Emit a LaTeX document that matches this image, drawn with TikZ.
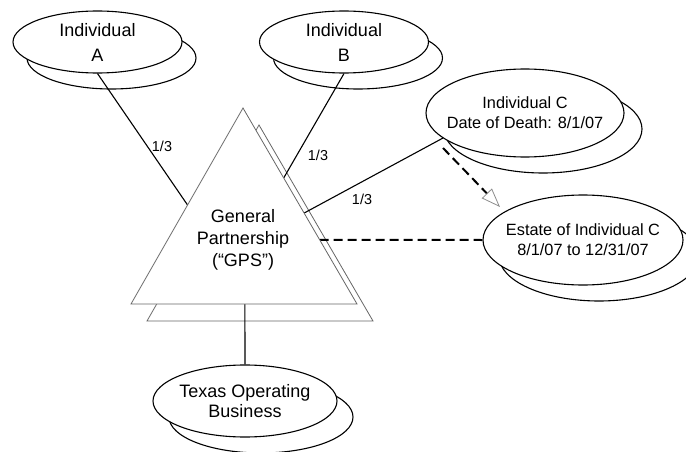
\documentclass[tikz,border=0pt]{standalone}
\usepackage{fontspec}
\setmainfont{Liberation Sans}
\usetikzlibrary{shapes.geometric,arrows.meta,calc}
\begin{document}
\begin{tikzpicture}[x=1pt,y=-1pt,
  stack/.style={ellipse, draw=black, line width=1.1pt, fill=white, inner sep=0pt},
  bigtext/.style={font=\fontsize{18}{25}\selectfont, align=center},
  midtext/.style={font=\fontsize{16.3}{20}\selectfont, align=center},
  link/.style={draw=black, line width=1.1pt},
  share/.style={font=\fontsize{14.4}{16}\selectfont},
  flow/.style={draw=black, line width=2pt, dash pattern=on 9pt off 5pt},
  tri/.style={draw=black!60, line width=0.8pt, fill=white, line join=miter}]
\useasboundingbox (0,0) rectangle (686,452);
\clip (0,0) rectangle (686,452);

% stacked ellipses: the rear copy of each entity
\node[stack, minimum width=169pt, minimum height=62pt] (aback) at (111.5,58) {};
\node[stack, minimum width=169pt, minimum height=62pt] (bback) at (358,58) {};
\node[stack, minimum width=198pt, minimum height=88pt] (cback) at (543,129) {};
\node[stack, minimum width=200pt, minimum height=90pt] (estback) at (599,256) {};
\node[stack, minimum width=184pt, minimum height=72pt] (txback) at (261,417) {};

% front ellipses, sized independently of their text
\node[stack, minimum width=169pt, minimum height=62pt,
  label={[bigtext]center:Individual\\A}] (a) at (97.5,42) {};
\node[stack, minimum width=169pt, minimum height=62pt,
  label={[bigtext]center:Individual\\B}] (b) at (344,42) {};
\node[stack, minimum width=198pt, minimum height=88pt,
  label={[midtext]center:Individual C\\Date of Death: 8/1/07}] (c) at (525,113) {};
\node[stack, minimum width=200pt, minimum height=90pt,
  label={[midtext]center:Estate of Individual C\\8/1/07 to 12/31/07}] (estate) at (583,240) {};
\node[stack, minimum width=184pt, minimum height=72pt,
  label={[font=\fontsize{18}{20}\selectfont, align=center]center:Texas Operating\\Business}] (texas) at (245,401) {};

% partnership triangle (rear copy)
\coordinate (bapex) at (259,125);
\coordinate (bbl) at (147,321);
\coordinate (bbr) at (373,321);
\draw[tri] (bapex) -- (bbl) -- (bbr) -- cycle;

% partnership triangle corners and attachment points
\coordinate (tapex) at (243,108);
\coordinate (tbl) at (131,304);
\coordinate (tbr) at (357,304);
\coordinate (inA) at ($(tapex)!0.495!(tbl)$);
\coordinate (inB) at ($(tapex)!0.357!(tbr)$);
\coordinate (inC) at ($(tapex)!0.536!(tbr)$);
\coordinate (outE) at ($(tapex)!0.673!(tbr)$);
\coordinate (outT) at ($(tbl)!0.504!(tbr)$);

% ownership links
\draw[link] (a.south) -- (inA);
\draw[link] (b.south) -- (inB);
\draw[link] (c.197) -- (inC);
\draw[link] (outT) -- (texas.north);
\draw[flow] (outE) -- (estate.west);

% succession from individual to estate
\coordinate (death) at (443,148);
\coordinate (estin) at (500,207);
\draw[flow, -{Triangle[open, line width=0.8pt, length=19pt, width=14pt, color=black!45]}] (death) -- (estin);

% front triangle
\draw[tri] (tapex) -- (tbl) -- (tbr) -- cycle;

% labels
\node[font=\fontsize{18}{22}\selectfont, align=center] (gps) at (243,240) {General\\Partnership\\(“GPS”)};
\node[share] (shA) at (162,146) {1/3};
\node[share] (shB) at (318,155) {1/3};
\node[share] (shC) at (362,199) {1/3};
\end{tikzpicture}
\end{document}
